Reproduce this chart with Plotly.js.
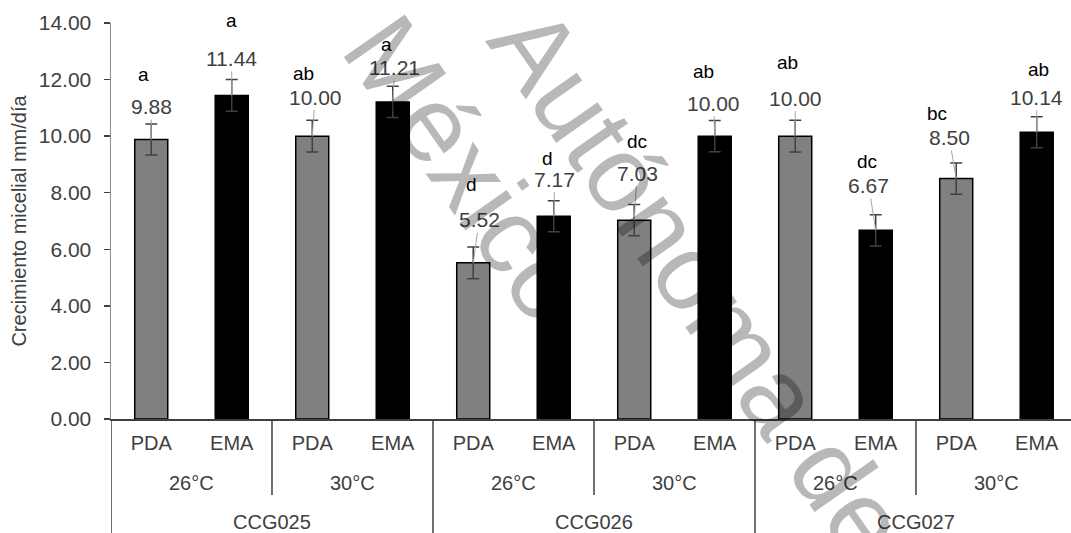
<!DOCTYPE html>
<html>
<head>
<meta charset="utf-8">
<script src="https://cdn.plot.ly/plotly-3.0.1.min.js"></script>
<style>
  html, body { margin: 0; padding: 0; background: #ffffff; }
  #chart { width: 1071px; height: 533px; }
</style>
</head>
<body>
<div id="chart"></div>
<script>
// ---- data ----
const media   = ['PDA','EMA','PDA','EMA','PDA','EMA','PDA','EMA','PDA','EMA','PDA','EMA'];
const temps   = ['26°C','30°C','26°C','30°C','26°C','30°C'];
const strains = ['CCG025','CCG026','CCG027'];
const values  = [9.88, 11.44, 10.00, 11.21, 5.52, 7.17, 7.03, 10.00, 10.00, 6.67, 8.50, 10.14];
const errors  = [0.55, 0.56, 0.56, 0.55, 0.56, 0.55, 0.55, 0.55, 0.56, 0.55, 0.55, 0.55];
const letters = ['a','a','ab','a','d','d','dc','ab','ab','dc','bc','ab'];
const yTitle  = 'Crecimiento micelial mm/día';
const watermark = ['México', 'Autónoma de'];

// ---- label placement (pixel offsets of the hand-placed Excel labels) ----
const valAx  = [0, 0, 3, 2, 6, 1, 3, -1, 0, -7, -7, 0];
const valAy  = [-33, -37, -39, -34, -43, -37, -47, -33, -38, -45, -41, -35];
const letXs  = [-8, 0, -9, -6, -2, -6, 3, -11, -8, -9, -19, 2];
const letYs  = [65, 75, 63, 57, 78, 58, 79, 65, 74, 69, 65, 63];

const FONT = 'Liberation Sans, Arial, sans-serif';
const TXT = '#404040';

const idx = values.map((_, i) => i);
const pdaIdx = idx.filter(i => media[i] === 'PDA');
const emaIdx = idx.filter(i => media[i] === 'EMA');

function barTrace(ids, name, color) {
  return {
    type: 'bar',
    name: name,
    x: ids,
    y: ids.map(i => values[i]),
    width: 0.41,
    marker: { color: color, line: { color: '#000000', width: 1.5 } },
    error_y: {
      type: 'data', array: ids.map(i => errors[i]), visible: true,
      color: '#404040', thickness: 1.5, width: 6
    },
    hoverinfo: 'x+y',
    showlegend: false
  };
}

const traces = [
  barTrace(pdaIdx, 'PDA', '#808080'),
  barTrace(emaIdx, 'EMA', '#000000')
];

const annotations = [];
// value labels with leader lines
idx.forEach(i => {
  annotations.push({
    x: i, y: values[i], xref: 'x', yref: 'y',
    text: values[i].toFixed(2),
    showarrow: true, arrowhead: 0, arrowwidth: 1, arrowcolor: '#a6a6a6',
    standoff: 0, startstandoff: 0,
    ax: valAx[i], ay: valAy[i],
    font: { family: FONT, size: 21, color: TXT }
  });
});
// significance letters
idx.forEach(i => {
  annotations.push({
    x: i, y: values[i], xref: 'x', yref: 'y',
    text: letters[i], showarrow: false,
    xshift: letXs[i], yshift: letYs[i],
    font: { family: FONT, size: 19, color: '#000000' }
  });
});

const PLOT_H = 396;
const lvl2Y = -64 / PLOT_H, lvl3Y = -103 / PLOT_H;
// temperature labels
temps.forEach((t, k) => {
  annotations.push({
    x: 2 * k + 0.5, y: lvl2Y, xref: 'x', yref: 'paper',
    text: t, showarrow: false, yanchor: 'middle',
    font: { family: FONT, size: 20, color: TXT }
  });
});
// strain labels
strains.forEach((s, k) => {
  annotations.push({
    x: 4 * k + 1.5, y: lvl3Y, xref: 'x', yref: 'paper',
    text: s, showarrow: false, yanchor: 'middle',
    font: { family: FONT, size: 20, color: TXT }
  });
});
// watermark (overlaid, partly outside the picture as in the reference)
annotations.push({
  x: (468 - 111) / 960, y: (419 - 168) / PLOT_H, xref: 'paper', yref: 'paper',
  text: watermark[0], showarrow: false, textangle: 55,
  xanchor: 'center', yanchor: 'middle',
  font: { family: FONT, size: 108, color: 'rgba(0,0,0,0.28)' }
});
annotations.push({
  x: (700 - 111) / 960, y: (419 - 282) / PLOT_H, xref: 'paper', yref: 'paper',
  text: watermark[1], showarrow: false, textangle: 55,
  xanchor: 'center', yanchor: 'middle',
  font: { family: FONT, size: 108, color: 'rgba(0,0,0,0.28)' }
});

// separators in the category area
const shapes = [];
strains.forEach((s, k) => {
  shapes.push({ type: 'line', xref: 'x', yref: 'paper',
    x0: 4 * k - 0.5, x1: 4 * k - 0.5, y0: 0, y1: -114 / PLOT_H,
    line: { color: '#404040', width: 1.5 } });
  shapes.push({ type: 'line', xref: 'x', yref: 'paper',
    x0: 4 * k + 1.5, x1: 4 * k + 1.5, y0: 0, y1: -76 / PLOT_H,
    line: { color: '#404040', width: 1.5 } });
});

const layout = {
  width: 1071, height: 533,
  margin: { l: 111, r: 0, t: 23, b: 114, pad: 0 },
  paper_bgcolor: '#ffffff', plot_bgcolor: '#ffffff',
  barmode: 'overlay',
  showlegend: false,
  font: { family: FONT, color: TXT },
  xaxis: {
    range: [-0.5, 11.426],
    tickmode: 'array', tickvals: idx, ticktext: media,
    ticks: '', showgrid: false, zeroline: false,
    showline: true, linecolor: '#404040', linewidth: 1.5,
    tickfont: { family: FONT, size: 20, color: TXT },
    ticklabelstandoff: 5
  },
  yaxis: {
    range: [0, 14], dtick: 2, tick0: 0, tickformat: '.2f',
    ticks: 'outside', ticklen: 6, tickcolor: '#404040', tickwidth: 1.5,
    showgrid: false, zeroline: false,
    showline: true, linecolor: '#8c8c8c', linewidth: 1.5,
    tickfont: { family: FONT, size: 21, color: TXT },
    ticklabelstandoff: 8,
    title: { text: yTitle, font: { family: FONT, size: 20, color: TXT }, standoff: 6 }
  },
  shapes: shapes,
  annotations: annotations
};

Plotly.newPlot('chart', traces, layout, { staticPlot: true, displayModeBar: false });
</script>
</body>
</html>
